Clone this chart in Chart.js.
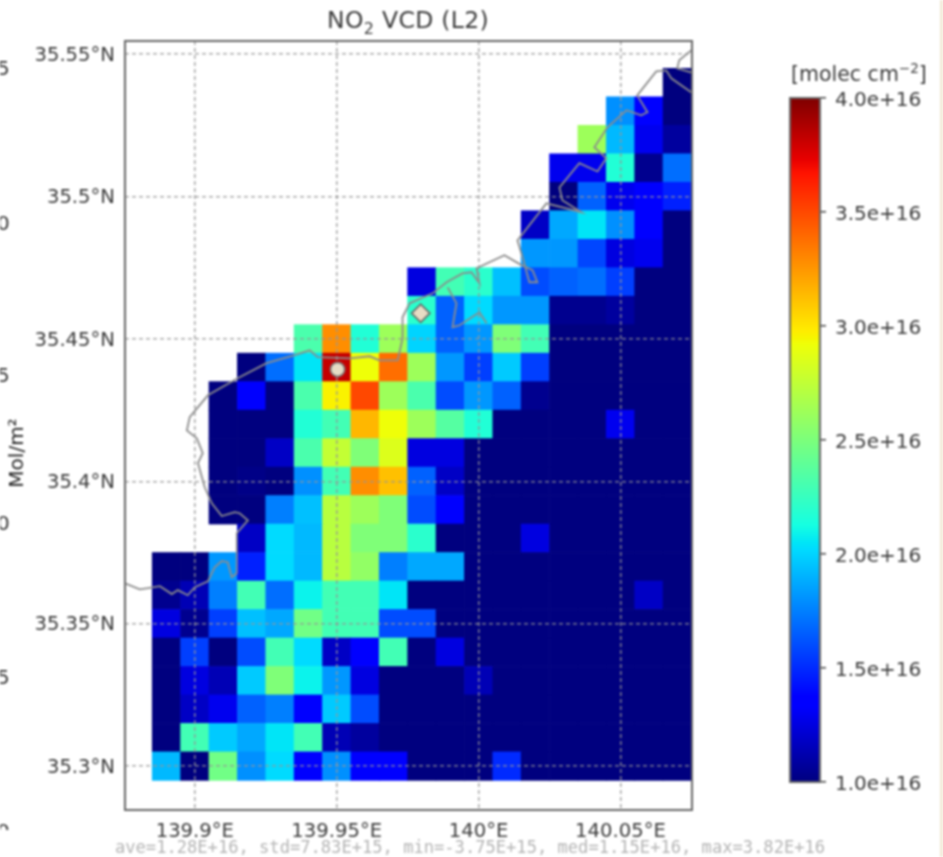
<!DOCTYPE html>
<html>
<head>
<meta charset="utf-8">
<title>NO2 VCD (L2)</title>
<script src="https://cdn.jsdelivr.net/npm/chart.js@4/dist/chart.umd.min.js"></script>
<style>
    html, body { margin: 0; padding: 0; background: #fff; }
    #pagina { position: relative; width: 943px; height: 857px; overflow: hidden; font-family: "DejaVu Sans", sans-serif; filter: blur(1px); }
    canvas { position: absolute; top: 0; }
    #mapa { left: 0; }
    #barra { left: 780px; }
    #faixa { position: absolute; left: 940px; top: 0; width: 3px; height: 857px; background: #f1e9d6; }
    #titulo { position: absolute; left: 208px; top: 6px; width: 400px; text-align: center; font-size: 23.5px; letter-spacing: 0.3px; color: #3a3a3a; white-space: nowrap; }
    #titulo sub { font-size: 16px; line-height: 0; }
    #rotuloBarra { position: absolute; left: 791px; top: 61px; font-size: 20.5px; line-height: 26px; color: #3a3a3a; white-space: nowrap; }
    #rotuloBarra sup { font-size: 13.5px; line-height: 0; }
    #estatisticas { position: absolute; left: 115px; top: 837px; font-family: "DejaVu Sans Mono", monospace; font-size: 17.1px; line-height: 20px; color: #b4b4b4; white-space: nowrap; }
    .resto { position: absolute; left: -3px; font-size: 20px; color: #333; line-height: 20px; }
    #cortado { position: absolute; left: -3px; top: 821px; height: 9px; overflow: hidden; font-size: 20px; line-height: 20px; color: #333; }
    #unidade { position: absolute; left: -24px; top: 441px; width: 80px; text-align: center; font-size: 20px; color: #222; transform: rotate(-90deg); white-space: nowrap; }
</style>
</head>
<body>
<div id="pagina">
    <canvas id="mapa" width="780" height="857"></canvas>
    <canvas id="barra" width="163" height="857"></canvas>
    <div id="faixa"></div>
    <div id="titulo">NO<sub>2</sub> VCD (L2)</div>
    <div id="rotuloBarra">[molec cm<sup>&minus;2</sup>]</div>
    <div id="estatisticas">ave=1.28E+16, std=7.83E+15, min=-3.75E+15, med=1.15E+16, max=3.82E+16</div>
    <span class="resto" style="top:58px">5</span>
    <span class="resto" style="top:213px">0</span>
    <span class="resto" style="top:365px">5</span>
    <span class="resto" style="top:513px">0</span>
    <span class="resto" style="top:667px">5</span>
    <div id="cortado">0</div>
    <span id="unidade">Mol/m²</span>
</div>

<script>
// Centros das células (graus)
const lonCentros = [139.89, 139.90, 139.91, 139.92, 139.93, 139.94, 139.95, 139.96, 139.97, 139.98,
    139.99, 140.00, 140.01, 140.02, 140.03, 140.04, 140.05, 140.06, 140.07];
const latCentros = [35.54, 35.53, 35.52, 35.51, 35.50, 35.49, 35.48, 35.47, 35.46, 35.45, 35.44, 35.43, 35.42,
    35.41, 35.40, 35.39, 35.38, 35.37, 35.36, 35.35, 35.34, 35.33, 35.32, 35.31, 35.30];
const meiaCelula = 0.005;

// NO2 VCD em 1e16 molec/cm2, uma linha por latitude, de cima para baixo
const vcdLinhas = [
    [null, null, null, null, null, null, null, null, null, null, null, null, null, null, null, null, null, null, 1.0],
    [null, null, null, null, null, null, null, null, null, null, null, null, null, null, null, null, 1.8, 1.36, 1.0],
    [null, null, null, null, null, null, null, null, null, null, null, null, null, null, null, 2.62, 1.92, 1.29, 1.08],
    [null, null, null, null, null, null, null, null, null, null, null, null, null, null, 1.29, 1.29, 2.17, 1.04, 1.7],
    [null, null, null, null, null, null, null, null, null, null, null, null, null, null, 1.0, 1.66, 1.29, 1.36, 1.47],
    [null, null, null, null, null, null, null, null, null, null, null, null, null, 1.18, 1.87, 2.05, 1.8, 1.36, 1.0],
    [null, null, null, null, null, null, null, null, null, null, null, null, null, 1.82, 1.82, 1.58, 1.25, 1.29, 1.0],
    [null, null, null, null, null, null, null, null, null, 1.25, 2.29, 2.2, 1.94, 1.6, 1.66, 1.7, 1.56, 1.0, 1.0],
    [null, null, null, null, null, null, null, null, null, 2.2, 1.66, 2.02, 1.82, 1.82, 1.04, 1.04, 1.08, 1.0, 1.0],
    [null, null, null, null, null, 2.32, 3.28, 2.17, 2.62, 2.0, 1.66, 1.82, 2.51, 2.29, 1.0, 1.0, 1.0, 1.0, 1.0],
    [null, null, null, 1.0, 1.7, 2.05, 3.82, 2.92, 3.38, 2.62, 1.82, 1.56, 1.97, 1.56, 1.0, 1.0, 1.0, 1.0, 1.0],
    [null, null, 1.0, 1.36, 1.0, 2.32, 2.96, 3.5, 2.62, 2.32, 1.6, 1.82, 1.66, 1.04, 1.0, 1.0, 1.0, 1.0, 1.0],
    [null, null, 1.0, 1.0, 1.0, 2.17, 2.29, 3.15, 2.92, 2.62, 2.36, 2.17, 1.0, 1.0, 1.0, 1.0, 1.29, 1.0, 1.0],
    [null, null, 1.0, 1.0, 1.18, 2.32, 2.76, 2.51, 2.85, 1.25, 1.25, 1.0, 1.0, 1.0, 1.0, 1.0, 1.0, 1.0, 1.0],
    [null, null, 1.0, 1.02, 1.0, 1.8, 2.29, 3.28, 3.12, 1.66, 1.18, 1.0, 1.0, 1.0, 1.0, 1.0, 1.0, 1.0, 1.0],
    [null, null, 1.0, 1.0, 1.75, 1.94, 2.72, 2.62, 2.51, 1.6, 1.36, 1.0, 1.0, 1.0, 1.0, 1.0, 1.0, 1.0, 1.0],
    [null, null, null, 1.18, 2.02, 1.92, 2.72, 2.51, 2.51, 2.2, 1.0, 1.0, 1.0, 1.25, 1.0, 1.0, 1.0, 1.0, 1.0],
    [1.0, 1.0, 1.82, 1.47, 2.02, 1.92, 2.72, 2.58, 1.75, 1.87, 1.87, 1.0, 1.0, 1.0, 1.0, 1.0, 1.0, 1.0, 1.0],
    [1.04, 1.14, 1.75, 2.29, 1.7, 2.09, 2.29, 2.29, 2.05, 1.0, 1.0, 1.0, 1.0, 1.0, 1.0, 1.0, 1.0, 1.18, 1.0],
    [1.25, 1.04, 1.56, 1.94, 1.87, 2.46, 2.29, 2.29, 1.6, 1.6, 1.0, 1.0, 1.0, 1.0, 1.0, 1.0, 1.0, 1.0, 1.0],
    [1.0, 1.56, 1.0, 1.6, 2.29, 2.02, 1.18, 1.36, 2.29, 1.0, 1.25, 1.0, 1.0, 1.0, 1.0, 1.0, 1.0, 1.0, 1.0],
    [1.0, 1.25, 1.14, 1.97, 2.51, 2.09, 1.82, 1.25, 1.0, 1.0, 1.0, 1.14, 1.0, 1.0, 1.0, 1.0, 1.0, 1.0, 1.0],
    [1.0, 1.18, 1.29, 1.66, 1.75, 1.36, 1.97, 1.6, 1.0, 1.0, 1.0, 1.0, 1.0, 1.0, 1.0, 1.0, 1.0, 1.0, 1.0],
    [1.0, 2.29, 1.97, 1.87, 2.05, 2.29, 1.14, 1.08, 1.0, 1.0, 1.0, 1.0, 1.0, 1.0, 1.0, 1.0, 1.0, 1.0, 1.0],
    [1.92, 1.0, 2.46, 1.8, 2.02, 1.36, 1.8, 1.36, 1.36, 1.0, 1.0, 1.0, 1.5, 1.0, 1.0, 1.0, 1.0, 1.0, 1.0]
];

// Linha de costa (lon, lat)
const costaLon = [139.8754, 139.8806, 139.8835, 139.8877, 139.8919, 139.8940, 139.8975, 139.9000, 139.9046, 139.9070,
    139.9095, 139.9116, 139.9130, 139.9148, 139.9148, 139.9187, 139.9158, 139.9141, 139.9095, 139.9060,
    139.9035, 139.9011, 139.9028, 139.9007, 139.8972, 139.8982, 139.9046, 139.9151, 139.9253, 139.9352,
    139.9405, 139.9433, 139.9546, 139.9616, 139.9651, 139.9715, 139.9732, 139.9732, 139.9757, 139.9838,
    139.9887, 139.9943, 139.9975, 140.0003, 139.9993, 140.0091, 140.0151, 140.0190, 140.0207, 140.0179,
    140.0155, 140.0137, 140.0239, 140.0362, 140.0295, 140.0285, 140.0355, 140.0419, 140.0450, 140.0408,
    140.0454, 140.0521, 140.0573, 140.0595, 140.0559, 140.0626, 140.0661, 140.0679, 140.0749];
const costaLat = [35.3642, 35.3621, 35.3625, 35.3632, 35.3604, 35.3618, 35.3600, 35.3628, 35.3649, 35.3698,
    35.3720, 35.3716, 35.3663, 35.3677, 35.3818, 35.3863, 35.3888, 35.3892, 35.3878, 35.3923,
    35.3979, 35.4064, 35.4099, 35.4151, 35.4179, 35.4225, 35.4302, 35.4362, 35.4415, 35.4443,
    35.4460, 35.4436, 35.4432, 35.4439, 35.4425, 35.4425, 35.4502, 35.4576, 35.4625, 35.4660,
    35.4699, 35.4730, 35.4734, 35.4695, 35.4748, 35.4794, 35.4759, 35.4741, 35.4699, 35.4699,
    35.4787, 35.4846, 35.4976, 35.4945, 35.4987, 35.5032, 35.5117, 35.5088, 35.5134, 35.5173,
    35.5243, 35.5303, 35.5285, 35.5296, 35.5355, 35.5439, 35.5443, 35.5415, 35.5366];
const baiaLon = [139.9891, 139.9922, 139.9908, 139.9933, 140.0003, 140.0028];
const baiaLat = [35.4681, 35.4625, 35.4541, 35.4548, 35.4594, 35.4555];
const cantoLon = [140.0749, 140.0707, 140.0700, 140.0749];
const cantoLat = [35.5513, 35.5478, 35.5450, 35.5436];

// Estações marcadas no mapa
const circuloLon = [139.9503];
const circuloLat = [35.4393];
const losangoLon = [139.9796];
const losangoLat = [35.459];

// Eixos
const lonTicks = [139.9, 139.95, 140, 140.05];
const lonRotulos = ["139.9°E", "139.95°E", "140°E", "140.05°E"];
const latTicks = [35.3, 35.35, 35.4, 35.45, 35.5, 35.55];
const latRotulos = ["35.3°N", "35.35°N", "35.4°N", "35.45°N", "35.5°N", "35.55°N"];
const barraTicks = [1e16, 1.5e16, 2e16, 2.5e16, 3e16, 3.5e16, 4e16];

// Paleta jet: posição, r, g, b
const jetParadas = [
    [0, 0, 0, 127], [0.11, 0, 0, 255], [0.125, 0, 0, 255], [0.34, 0, 219, 255], [0.35, 0, 229, 247],
    [0.375, 21, 255, 226], [0.64, 239, 255, 8], [0.65, 247, 245, 0], [0.66, 255, 236, 0], [0.89, 255, 19, 0],
    [0.91, 232, 0, 0], [1, 127, 0, 0]
];
const vcdMin = 1.0;
const vcdMax = 4.0;

function corJet(v) {
    const t = Math.min(1, Math.max(0, (v - vcdMin) / (vcdMax - vcdMin)));
    for (let i = 1; i < jetParadas.length; i++) {
        const a = jetParadas[i - 1], b = jetParadas[i];
        if (t <= b[0]) {
            const f = (t - a[0]) / (b[0] - a[0]);
            const c = [1, 2, 3].map(k => Math.round(a[k] + (b[k] - a[k]) * f));
            return `rgb(${c[0]},${c[1]},${c[2]})`;
        }
    }
    return "rgb(127,0,0)";
}

function pontos(xs, ys) {
    return xs.map((x, i) => ({ x: x, y: ys[i] }));
}

// Monta as células como barras flutuantes
const celulas = [];
const coresCelulas = [];
vcdLinhas.forEach((linha, i) => {
    linha.forEach((v, j) => {
        if (v === null) return;
        celulas.push({ x: lonCentros[j], y: [latCentros[i] - meiaCelula, latCentros[i] + meiaCelula] });
        coresCelulas.push(corJet(v));
    });
});

// Moldura em volta da área do gráfico
const moldura = {
    id: "moldura",
    afterDraw(chart) {
        const { ctx, chartArea: a } = chart;
        ctx.save();
        ctx.strokeStyle = "#666";
        ctx.lineWidth = 2;
        ctx.strokeRect(a.left, a.top, a.right - a.left, a.bottom - a.top);
        ctx.restore();
    }
};

// Marcadores ficam por cima da grade
const marcadoresNoTopo = {
    id: "marcadoresNoTopo",
    afterDraw(chart) {
        chart.getDatasetMeta(4).controller.draw();
        chart.getDatasetMeta(5).controller.draw();
    }
};

const estiloLinha = { type: "line", borderColor: "#8c8c8c", borderWidth: 1.8, pointRadius: 0, tension: 0, fill: false, order: 4 };
const grade = { color: "rgba(150,150,150,0.8)", lineWidth: 1.6, offset: false, drawTicks: false, z: 1 };
const bordaGrade = { display: false, dash: [4, 3] };
const fonteEixo = { family: "'DejaVu Sans'", size: 19.6 };

window.addEventListener("DOMContentLoaded", () => {
    new Chart(document.getElementById("mapa"), {
        type: "bar",
        data: {
            datasets: [
                { data: celulas, backgroundColor: coresCelulas, borderWidth: 0, grouped: false, barPercentage: 1, categoryPercentage: 1, order: 5 },
                { ...estiloLinha, data: pontos(costaLon, costaLat) },
                { ...estiloLinha, data: pontos(baiaLon, baiaLat) },
                { ...estiloLinha, data: pontos(cantoLon, cantoLat) },
                { type: "line", data: pontos(circuloLon, circuloLat), showLine: false, pointStyle: "circle", pointRadius: 7, pointBackgroundColor: "#e6dcc4", pointBorderColor: "#777", pointBorderWidth: 1.5, order: 1 },
                { type: "line", data: pontos(losangoLon, losangoLat), showLine: false, pointStyle: "rectRot", pointRadius: 9, pointBackgroundColor: "#e6dcc4", pointBorderColor: "#666", pointBorderWidth: 1.5, order: 1 }
            ]
        },
        options: {
            responsive: false,
            animation: false,
            events: [],
            layout: { padding: { top: 41, right: 88 } },
            plugins: {
                legend: { display: false },
                tooltip: { enabled: false }
            },
            scales: {
                x: {
                    type: "linear",
                    offset: false,
                    min: 139.8754,
                    max: 140.0752,
                    afterBuildTicks: s => { s.ticks = lonTicks.map(v => ({ value: v })); },
                    afterFit: s => { s.height = 47; },
                    grid: grade,
                    border: bordaGrade,
                    ticks: {
                        autoSkip: false,
                        maxRotation: 0,
                        padding: 10,
                        color: "#3a3a3a",
                        font: fonteEixo,
                        callback: v => lonRotulos[lonTicks.indexOf(v)]
                    }
                },
                y: {
                    min: 35.2846,
                    max: 35.5546,
                    afterBuildTicks: s => { s.ticks = latTicks.map(v => ({ value: v })); },
                    afterFit: s => { s.width = 125; },
                    grid: grade,
                    border: bordaGrade,
                    ticks: {
                        autoSkip: false,
                        padding: 10,
                        labelOffset: 1.5,
                        color: "#3a3a3a",
                        font: fonteEixo,
                        callback: v => latRotulos[latTicks.indexOf(v)]
                    }
                }
            }
        },
        plugins: [moldura, marcadoresNoTopo]
    });

    // Barra de cores
    new Chart(document.getElementById("barra"), {
        type: "bar",
        data: {
            labels: [""],
            datasets: [{
                data: [[vcdMin * 1e16, vcdMax * 1e16]],
                barPercentage: 1,
                categoryPercentage: 1,
                borderWidth: 0,
                backgroundColor: c => {
                    const a = c.chart.chartArea;
                    if (!a) return "#000";
                    const g = c.chart.ctx.createLinearGradient(0, a.bottom, 0, a.top);
                    jetParadas.forEach(p => g.addColorStop(p[0], `rgb(${p[1]},${p[2]},${p[3]})`));
                    return g;
                }
            }]
        },
        options: {
            responsive: false,
            animation: false,
            events: [],
            layout: { padding: { left: 10, top: 98, bottom: 75 } },
            plugins: { legend: { display: false }, tooltip: { enabled: false } },
            scales: {
                x: { display: false },
                y: {
                    position: "right",
                    min: vcdMin * 1e16,
                    max: vcdMax * 1e16,
                    afterBuildTicks: s => { s.ticks = barraTicks.map(v => ({ value: v })); },
                    afterFit: s => { s.width = 123; },
                    grid: { drawOnChartArea: false, drawTicks: true, tickLength: 6, color: "#444", lineWidth: 1.5 },
                    border: { display: false },
                    ticks: {
                        autoSkip: false,
                        padding: 9,
                        labelOffset: 2.5,
                        color: "#3a3a3a",
                        font: { family: "'DejaVu Sans'", size: 20 },
                        callback: v => v.toExponential(1)
                    }
                }
            }
        },
        plugins: [moldura]
    });
});
</script>
</body>
</html>
